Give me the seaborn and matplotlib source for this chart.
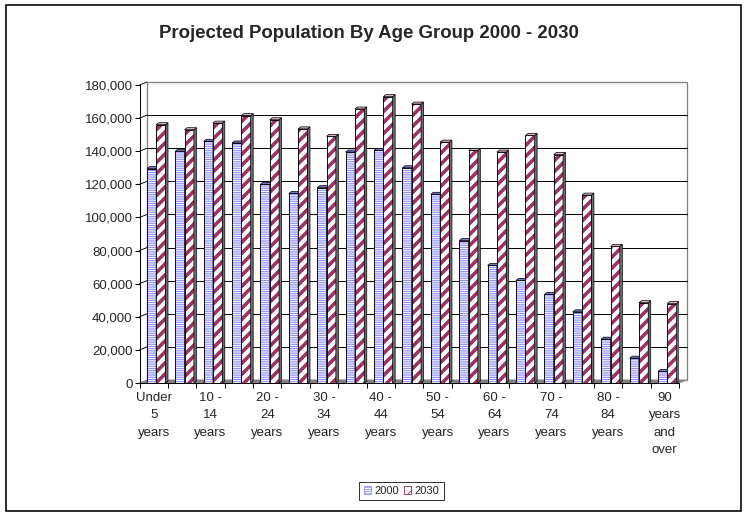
import matplotlib
matplotlib.use("Agg")
import matplotlib.pyplot as plt
from matplotlib.patches import Polygon, Rectangle
from matplotlib.lines import Line2D
import pandas as pd
import seaborn as sns

# ---- data -------------------------------------------------------------
age_groups = ["Under 5 years", "5 - 9 years", "10 - 14 years", "15 - 19 years",
              "20 - 24 years", "25 - 29 years", "30 - 34 years", "35 - 39 years",
              "40 - 44 years", "45 - 49 years", "50 - 54 years", "55 - 59 years",
              "60 - 64 years", "65 - 69 years", "70 - 74 years", "75 - 79 years",
              "80 - 84 years", "85 - 89 years", "90 years and over"]
pop_2000 = [129500, 140000, 146000, 145000, 120000, 114500, 118000, 139500,
            140500, 130000, 114000, 86000, 71000, 62000, 53500, 43000,
            26500, 15000, 7000]
pop_2030 = [156000, 153000, 157000, 161500, 159000, 153500, 149000, 165500,
            173000, 168500, 145500, 140500, 139500, 149500, 138000, 113500,
            82500, 48500, 48000]
years = ["2000", "2030"]
tick_labels = ["Under\n5\nyears", "", "10 -\n14\nyears", "", "20 -\n24\nyears", "",
               "30 -\n34\nyears", "", "40 -\n44\nyears", "", "50 -\n54\nyears", "",
               "60 -\n64\nyears", "", "70 -\n74\nyears", "", "80 -\n84\nyears", "",
               "90\nyears\nand\nover"]
y_ticks = [0, 20000, 40000, 60000, 80000, 100000, 120000, 140000, 160000, 180000]
title = "Projected Population By Age Group 2000 - 2030"

# ---- styling ----------------------------------------------------------
sns.set_style("white")
plt.rcParams["font.family"] = ["Liberation Sans", "DejaVu Sans"]

DPI = 66
W, H = 748, 514
PT = 72.0 / DPI                      # points per pixel

fig = plt.figure(figsize=(W / DPI, H / DPI), dpi=DPI)

# front plane of the plot area, in pixels
x_left, x_right, y_base, y_top = 139.5, 679.0, 383.0, 85.0
ax = fig.add_axes([x_left / W, (H - y_base) / H,
                   (x_right - x_left) / W, (y_base - y_top) / H])
ax.patch.set_alpha(0)

df = pd.DataFrame({
    "age": age_groups * 2,
    "year": [years[0]] * len(age_groups) + [years[1]] * len(age_groups),
    "population": pop_2000 + pop_2030,
})

sns.barplot(data=df, x="age", y="population", hue="year", order=age_groups,
            hue_order=years, width=0.655, dodge=True, palette=["white", "white"],
            legend=False, ax=ax)

ax.set_xlim(-0.5, len(age_groups) - 0.5)
ax.set_ylim(0, y_ticks[-1])
ax.set_xlabel("")
ax.set_ylabel("")

ax_w_px = x_right - x_left
ax_h_px = y_base - y_top
ux = ax_w_px / len(age_groups)        # pixels per category
uy = ax_h_px / y_ticks[-1]            # pixels per person

hatch_col = {"2000": "#8F8FFF", "2030": "#993366"}
hatch_pat = {"2000": "-----", "2030": "//"}
hatch_lw = {"2000": 1.2 * PT, "2030": 3.6 * PT}
top_col = {"2000": "#7777CC", "2030": "#D9B3C6"}


def set_hatch_width(patch, lw):
    if hasattr(patch, "set_hatch_linewidth"):
        patch.set_hatch_linewidth(lw)
    elif hasattr(patch, "_hatch_linewidth"):
        patch._hatch_linewidth = lw


shift = 2.5 / ux                      # bars sit mid-depth
bdx, bdy = 2.5 / ux, 2.0 / uy         # bar depth

bars = list(ax.patches)
n = len(age_groups)
for k, bar in enumerate(bars):
    yr = years[k // n]
    base_z = 2.0 + 0.4 * (k // n)
    bar.set_x(bar.get_x() + shift)
    bar.set_facecolor("white")
    bar.set_edgecolor(hatch_col[yr])
    bar.set_linewidth(0)
    bar.set_hatch(hatch_pat[yr])
    set_hatch_width(bar, hatch_lw[yr])
    bar.set_zorder(base_z)
    x0, w, h = bar.get_x(), bar.get_width(), bar.get_height()
    ax.add_patch(Rectangle((x0, 0), w, h, fill=False, edgecolor="black",
                           linewidth=0.9 * PT, zorder=base_z + 0.05))
    ax.add_patch(Polygon([(x0 + w, 0), (x0 + w, h), (x0 + w + bdx, h + bdy),
                          (x0 + w + bdx, bdy)], closed=True, facecolor="#6E6E6E",
                         edgecolor="black", linewidth=0.7 * PT, zorder=base_z + 0.1))
    ax.add_patch(Polygon([(x0, h), (x0 + w, h), (x0 + w + bdx, h + bdy),
                          (x0 + bdx, h + bdy)], closed=True, facecolor=top_col[yr],
                         edgecolor="black", linewidth=0.7 * PT, zorder=base_z + 0.1))

# ---- walls and floor ----------------------------------------------------
dxa, dya = 7.5 / ax_w_px, 3.0 / ax_h_px   # depth of the box in axes units
tA = ax.transAxes
ax.add_patch(Polygon([(0, 0), (1, 0), (1 + dxa, dya), (dxa, dya)], closed=True,
                     transform=tA, facecolor="#808080", edgecolor="#808080",
                     linewidth=0.8 * PT, clip_on=False, zorder=1))
ax.add_patch(Rectangle((dxa, dya), 1, 1, transform=tA, fill=False,
                       edgecolor="#808080", linewidth=1.3 * PT, clip_on=False,
                       zorder=0.6))
for v in y_ticks[1:]:
    yf = v / y_ticks[-1]
    if v != y_ticks[-1]:
        ax.add_line(Line2D([dxa, 1 + dxa], [yf + dya, yf + dya], transform=tA,
                           color="black", linewidth=1.0 * PT, clip_on=False,
                           zorder=0.7))
    ax.add_line(Line2D([0, dxa], [yf, yf + dya], transform=tA, color="black",
                       linewidth=0.9 * PT, clip_on=False, zorder=0.7))

# ---- axes ----------------------------------------------------------------
for side in ("top", "right"):
    ax.spines[side].set_visible(False)
for side in ("left", "bottom"):
    ax.spines[side].set_color("black")
    ax.spines[side].set_linewidth(1.0 * PT)
    ax.spines[side].set_zorder(5)

ax.set_yticks(y_ticks)
ax.set_yticklabels([f"{v:,}" for v in y_ticks])
ax.tick_params(axis="y", which="major", direction="out", length=5 * PT,
               width=1.0 * PT, color="black", pad=2 * PT, labelsize=13.3 * PT,
               left=True)

ax.set_xticks(range(n))
ax.set_xticklabels(tick_labels, linespacing=1.6)
ax.tick_params(axis="x", which="major", length=0, pad=9 * PT,
               labelsize=13.3 * PT, bottom=True)
ax.set_xticks([i - 0.5 for i in range(n + 1)], minor=True)
ax.tick_params(axis="x", which="minor", direction="out", length=5 * PT,
               width=1.0 * PT, color="black", bottom=True)
ax.grid(False)

# ---- title, legend, border -------------------------------------------------
fig.text(369 / W, 1 - 33 / H, title, ha="center", va="center",
         fontsize=18.6 * PT, fontweight="bold")

handles = []
for yr in years:
    p = Rectangle((0, 0), 1, 1, facecolor="white", edgecolor=hatch_col[yr],
                  hatch=hatch_pat[yr], linewidth=0.9 * PT)
    set_hatch_width(p, 1.2 * PT)
    handles.append(p)
leg = fig.legend(handles, years, loc="center", ncol=2,
                 bbox_to_anchor=(401.5 / W, 1 - 491 / H), frameon=True,
                 fancybox=False, shadow=False, fontsize=11.2 * PT,
                 handlelength=0.65, handleheight=0.65, handletextpad=0.3,
                 columnspacing=0.4, borderpad=0.4, borderaxespad=0)
leg.get_frame().set_edgecolor("black")
leg.get_frame().set_linewidth(1.0 * PT)

fig.add_artist(Rectangle((6 / W, 1 - 511 / H), 735 / W, 506 / H,
                         transform=fig.transFigure, fill=False,
                         edgecolor="black", linewidth=1.6 * PT))

fig.savefig("out.png", dpi=DPI)
